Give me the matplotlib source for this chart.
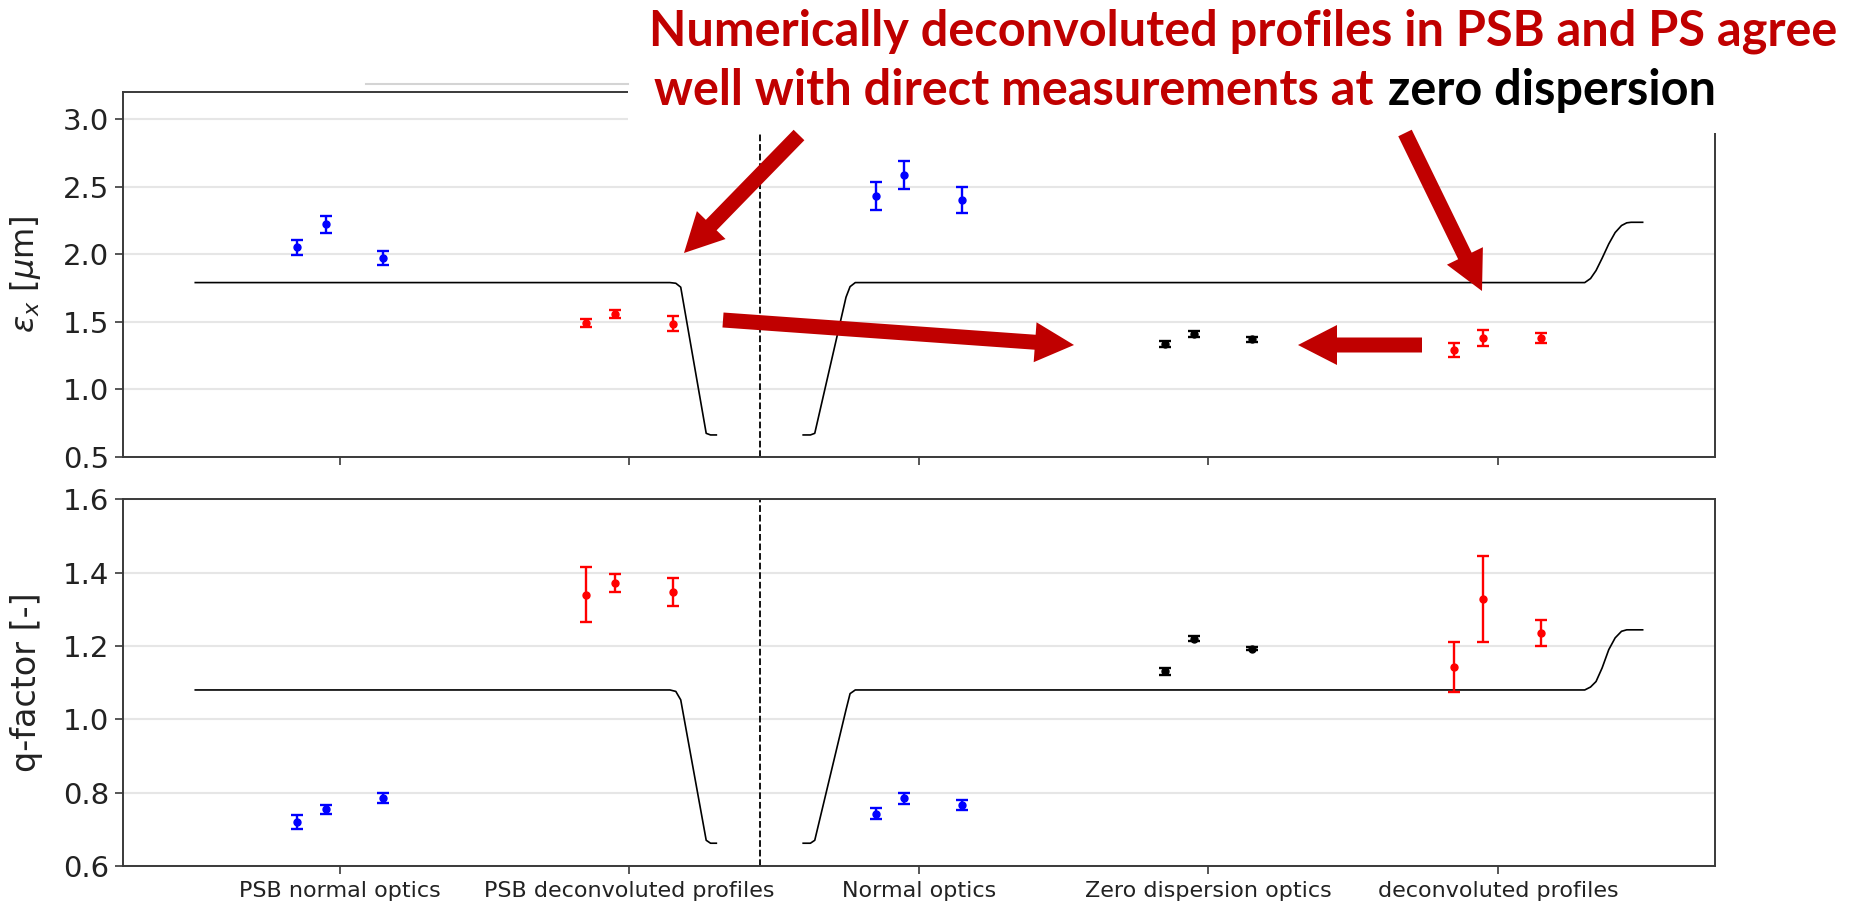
import matplotlib.pyplot as plt
from matplotlib.lines import Line2D
from matplotlib.patches import Rectangle, FancyArrow

# Categories on the x axis
categories = ['PSB normal optics', 'PSB deconvoluted profiles', 'Normal optics',
              'Zero dispersion optics', 'deconvoluted profiles']
positions = [0, 1, 2, 3, 4]
offsets = [-0.15, -0.05, 0.15]
group_colors = ['b', 'r', 'b', 'k', 'r']

# Emittance [um] and errors, three measurements per group
eps_vals = [[2.05, 2.22, 1.97],
            [1.49, 1.56, 1.485],
            [2.43, 2.585, 2.40],
            [1.335, 1.41, 1.37],
            [1.29, 1.38, 1.38]]
eps_errs = [[0.055, 0.06, 0.05],
            [0.03, 0.03, 0.055],
            [0.105, 0.105, 0.095],
            [0.025, 0.025, 0.02],
            [0.05, 0.057, 0.04]]

# q-factor and errors
q_vals = [[0.72, 0.754, 0.786],
          [1.34, 1.372, 1.347],
          [0.743, 0.784, 0.766],
          [1.131, 1.22, 1.193],
          [1.142, 1.327, 1.235]]
q_errs = [[0.02, 0.012, 0.013],
          [0.074, 0.024, 0.039],
          [0.014, 0.016, 0.014],
          [0.009, 0.006, 0.005],
          [0.068, 0.117, 0.036]]

# Reference curve, PSB branch (left of divider) and PS branch (right)
curve_x_psb = [-0.5, 1.14, 1.16, 1.177, 1.265, 1.28, 1.30]
eps_curve_psb = [1.79, 1.79, 1.785, 1.756, 0.675, 0.663, 0.663]
q_curve_psb = [1.08, 1.08, 1.076, 1.053, 0.67, 0.662, 0.662]
curve_x_ps = [1.60, 1.625, 1.64, 1.748, 1.762, 1.78, 4.30, 4.32, 4.339, 4.36,
              4.383, 4.405, 4.427, 4.445, 4.46, 4.50]
eps_curve_ps = [0.663, 0.663, 0.675, 1.682, 1.76, 1.79, 1.79, 1.82, 1.879, 1.97,
                2.076, 2.16, 2.212, 2.232, 2.236, 2.236]
q_curve_ps = [0.662, 0.662, 0.67, 1.026, 1.07, 1.08, 1.08, 1.088, 1.103, 1.14,
              1.19, 1.222, 1.24, 1.244, 1.244, 1.244]

divider_x = 1.45

fig = plt.figure(figsize=(18.68, 9.06), dpi=100)
ax1 = fig.add_axes([0.0658, 0.4956, 0.8523, 0.4029])
ax2 = fig.add_axes([0.0658, 0.0442, 0.8523, 0.4047])

panels = [(ax1, eps_vals, eps_errs, eps_curve_psb, eps_curve_ps),
          (ax2, q_vals, q_errs, q_curve_psb, q_curve_ps)]
for ax, vals, errs, c_psb, c_ps in panels:
    ax.plot(curve_x_psb, c_psb, color='k', lw=1.2, zorder=2)
    ax.plot(curve_x_ps, c_ps, color='k', lw=1.2, zorder=2)
    for pos, col, v, e in zip(positions, group_colors, vals, errs):
        xs = [pos + o for o in offsets]
        ax.errorbar(xs, v, yerr=e, fmt='o', color=col, ms=5, elinewidth=1.7,
                    capsize=4, capthick=1.7, zorder=3)
    ax.axvline(divider_x, color='k', ls='--', lw=1.3, zorder=2)
    ax.set_xlim(-0.75, 4.75)
    ax.set_xticks(positions)
    ax.yaxis.grid(True, color='#e6e6e6', lw=1.5)
    ax.set_axisbelow(True)
    for sp in ax.spines.values():
        sp.set_color('#3a3a3a')
        sp.set_linewidth(1.4)
    ax.tick_params(axis='both', direction='out', length=6, width=1.2, color='#3a3a3a')
    ax.tick_params(axis='y', labelsize=21, pad=4, labelcolor='#222222')
    ax.tick_params(axis='x', labelsize=16, pad=5, labelcolor='#222222')

ax1.set_ylim(0.5, 3.2)
ax1.set_yticks([0.5, 1.0, 1.5, 2.0, 2.5, 3.0])
ax1.set_xticklabels([])
ax1.set_ylabel(r'$\varepsilon_x$ [$\mu$m]', fontsize=23, color='#222222')
ax1.yaxis.set_label_coords(-0.05, 0.5)

ax2.set_ylim(0.6, 1.6)
ax2.set_yticks([0.6, 0.8, 1.0, 1.2, 1.4, 1.6])
ax2.set_xticklabels(categories)
ax2.set_ylabel('q-factor [-]', fontsize=24, color='#222222')
ax2.yaxis.set_label_coords(-0.05, 0.5)

# white backing for the headline, plus the stray rule above the top panel
W, H = 1868, 906
fig.add_artist(Rectangle((628 / W, 1 - 133 / H), 1, 133 / H, transform=fig.transFigure,
                         facecolor='white', edgecolor='none', zorder=5))
fig.add_artist(Line2D([366 / W, 628 / W], [1 - 84 / H, 1 - 84 / H], transform=fig.transFigure,
                      color='#d4d4d4', lw=1.5, zorder=5))

# arrows, pixel positions converted to inches
def px(x, y):
    return x / 100, (H - y) / 100

dark_red = '#C00000'
arrows = [((799, 135), (684, 253)),
          ((723, 320), (1074, 345)),
          ((1422, 345), (1298, 345)),
          ((1405, 133), (1482, 291))]
for (x0, y0), (x1, y1) in arrows:
    sx, sy = px(x0, y0)
    ex, ey = px(x1, y1)
    fig.add_artist(FancyArrow(sx, sy, ex - sx, ey - sy, width=0.15, head_width=0.40,
                              head_length=0.39, length_includes_head=True,
                              transform=fig.dpi_scale_trans, color=dark_red, lw=0, zorder=6))

# headline
font = dict(family=['Lato', 'DejaVu Sans'], weight='bold', fontsize=35)
fig.text(649 / W, 1 - 46 / H, 'Numerically deconvoluted profiles in PSB and PS agree',
         color=dark_red, ha='left', va='baseline', zorder=7, **font)
t_red = fig.text(654 / W, 1 - 105 / H, 'well with direct measurements at',
                 color=dark_red, ha='left', va='baseline', zorder=7, **font)
fig.canvas.draw()
bb = t_red.get_window_extent()
fig.text((bb.x1 + 14) / W, 1 - 105 / H, 'zero dispersion', color='k',
         ha='left', va='baseline', zorder=7, **font)

fig.savefig('out.png', dpi=100)
